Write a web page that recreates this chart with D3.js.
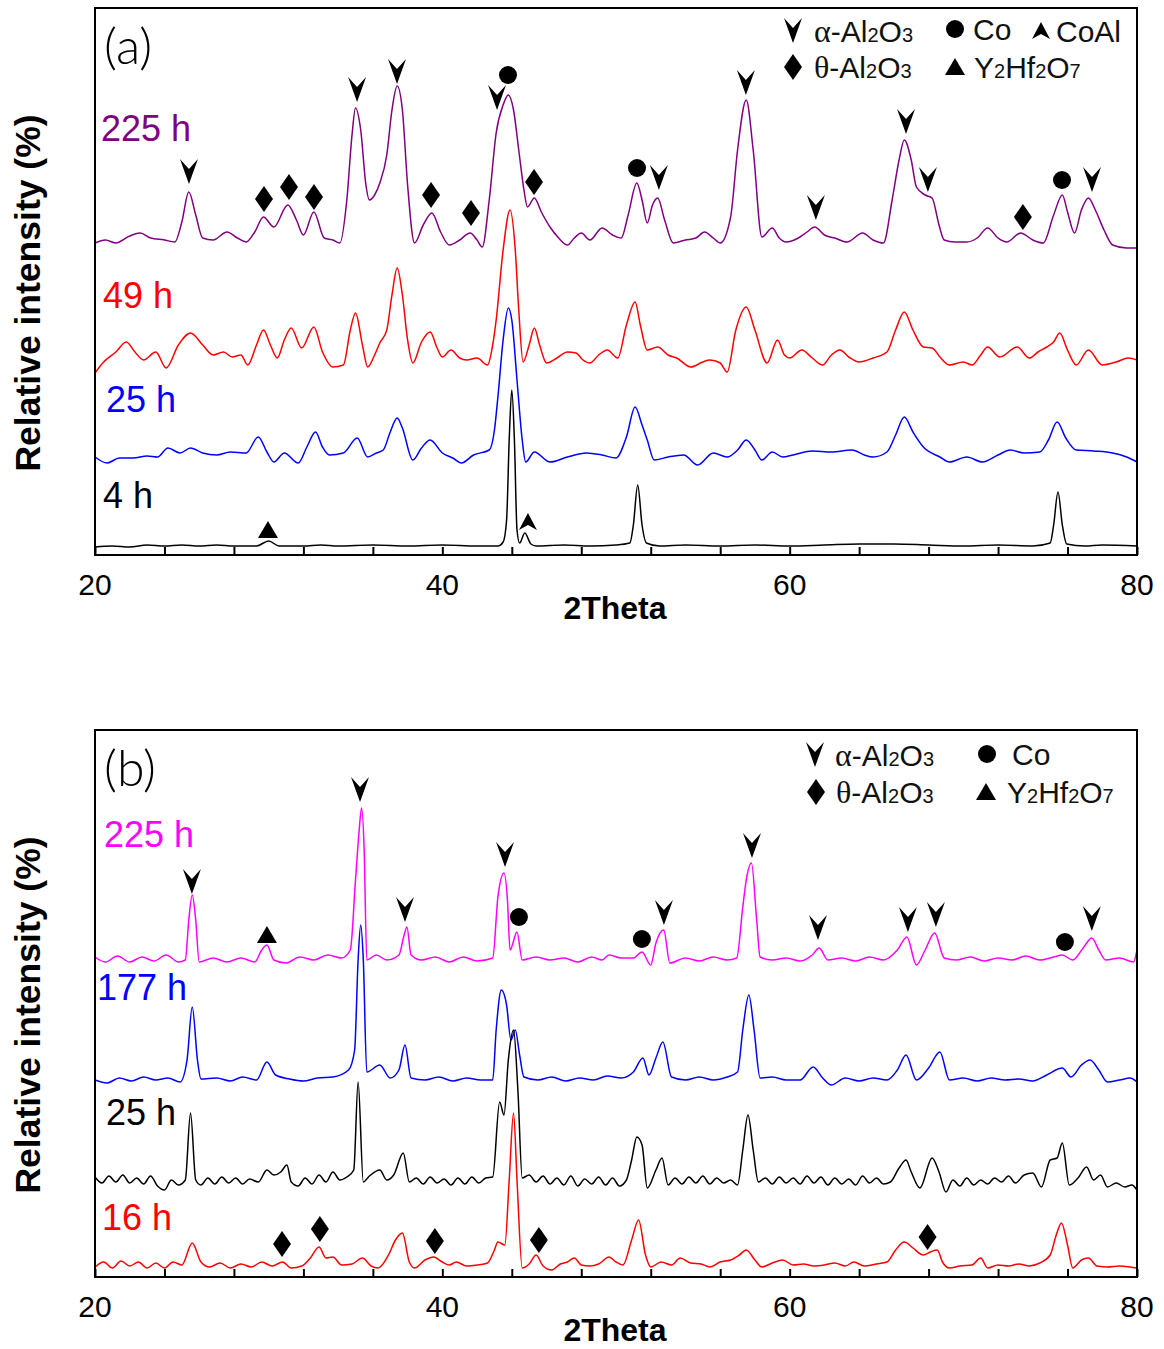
<!DOCTYPE html>
<html>
<head>
<meta charset="utf-8">
<script src="https://cdn.jsdelivr.net/npm/d3@7"></script>
<style>
  body { margin: 0; background: #fff; }
  text { font-family: "Liberation Sans", Arial, sans-serif; }
</style>
</head>
<body>
<script>
// ---- tick values (2Theta) ----
const thetaTicks = d3.range(20, 81, 4);
const thetaLabels = [20, 40, 60, 80];

// ---- panel (a) patterns: [2Theta, relative intensity (a.u., offset included)] ----
const a225h = [[20,312],[20.6,315],[21.2,312],[22,319],[22.6,322],[23.2,317],[24,315],[24.6,313],[25,333],[25.4,363],[25.8,340],[26.2,317],[26.8,315],[27.6,323],[28.2,317],[28.7,313],[29.2,323],[29.7,338],[30.3,328],[31.1,350],[31.6,335],[32,320],[32.6,343],[33.2,317],[33.7,315],[34.1,312],[34.5,355],[34.8,420],[35,447],[35.3,425],[35.6,370],[35.8,355],[36.1,360],[36.4,372],[36.8,400],[37.1,445],[37.4,469],[37.7,445],[38,370],[38.4,312],[38.9,330],[39.4,342],[39.9,323],[40.4,310],[41,315],[41.6,322],[42,315],[42.3,308],[42.7,355],[43.1,422],[43.5,450],[43.8,460],[44.1,445],[44.4,405],[44.7,365],[44.9,348],[45.3,357],[45.7,343],[46.2,328],[46.7,317],[47.2,310],[47.6,317],[48,322],[48.5,315],[49.2,327],[49.8,320],[50.3,317],[50.7,340],[51.2,372],[51.5,355],[51.8,332],[52.1,350],[52.4,357],[52.8,335],[53.3,312],[54,315],[54.6,317],[55.1,323],[55.6,317],[56,312],[56.6,338],[57,405],[57.5,455],[57.9,405],[58.4,318],[59,327],[59.4,317],[59.8,313],[60.5,317],[61,323],[61.45,328],[62,320],[62.6,317],[63.3,313],[64.2,322],[64.8,315],[65.4,312],[65.9,355],[66.3,395],[66.6,415],[67,395],[67.3,368],[67.8,360],[68.2,357],[68.6,330],[68.9,315],[69.5,313],[70.2,313],[70.8,317],[71.4,327],[72,317],[72.5,313],[73.3,322],[74,315],[74.6,312],[75.2,340],[75.7,360],[76,343],[76.4,322],[76.8,345],[77.2,357],[77.6,345],[78.1,325],[78.6,310],[79.4,307],[80,307]];
const a49h = [[20,182],[20.5,193],[21.2,203],[21.8,213],[22.3,203],[22.8,195],[23.5,203],[24.1,187],[24.8,210],[25.5,222],[26.2,210],[26.8,200],[27.4,203],[27.9,198],[28.4,200],[28.8,190],[29.3,210],[29.7,225],[30.1,210],[30.5,197],[30.9,215],[31.3,227],[31.9,207],[32.6,228],[33.1,203],[33.7,188],[34.3,190],[34.7,225],[35,242],[35.4,210],[35.7,188],[36.1,200],[36.4,212],[36.8,225],[37.1,260],[37.4,287],[37.7,260],[38,215],[38.3,192],[38.8,213],[39.3,223],[39.7,207],[40,198],[40.5,205],[41,197],[41.4,195],[42,197],[42.6,190],[42.9,210],[43.1,235],[43.5,305],[43.9,345],[44.2,305],[44.4,245],[44.65,193],[45,210],[45.3,227],[45.6,210],[46,192],[46.6,197],[47.2,203],[47.7,202],[48.1,195],[48.5,192],[49,200],[49.5,205],[50.1,197],[50.6,230],[51.1,253],[51.4,230],[51.8,205],[52.4,208],[53,200],[53.5,197],[54.3,188],[55,193],[55.4,195],[56,192],[56.4,183],[56.9,225],[57.5,248],[58,225],[58.7,192],[59.3,215],[59.7,200],[60,197],[60.7,205],[61.3,197],[61.9,190],[62.4,200],[62.9,205],[63.4,198],[64,193],[64.8,197],[65.6,203],[66.1,225],[66.6,243],[67.1,225],[67.7,208],[68.2,207],[68.7,197],[69.2,190],[70,193],[70.5,190],[71,200],[71.4,208],[72.1,198],[73.1,208],[73.8,197],[74.3,203],[74.8,208],[75.2,213],[75.55,222],[76,205],[76.5,190],[77.2,205],[78,190],[78.8,193],[79.5,197],[80,195]];
const a25h = [[20,98],[20.7,92],[21.4,97],[22.2,97],[23,99],[23.6,98],[24.2,107],[24.9,102],[25.5,107],[26.2,102],[27,100],[27.8,103],[28.7,102],[29.4,118],[29.9,103],[30.3,93],[30.9,102],[31.7,92],[32.2,108],[32.7,123],[33.1,108],[33.5,100],[34.3,102],[35.1,117],[35.7,98],[36.2,102],[36.6,105],[37,123],[37.4,137],[37.7,127],[38.3,95],[38.8,107],[39.3,115],[40,102],[40.6,97],[41.1,92],[41.8,100],[42.7,105],[43,125],[43.2,158],[43.5,215],[43.8,247],[44,235],[44.3,175],[44.6,115],[44.8,93],[45.3,103],[46.2,93],[47.2,98],[48.3,102],[49.2,100],[50,97],[50.6,118],[51.1,148],[51.5,130],[51.8,115],[52.2,95],[53,98],[53.9,100],[54.7,90],[55.6,102],[56.4,98],[57,105],[57.5,115],[58,105],[58.4,95],[59,103],[59.6,98],[60.2,100],[61.3,104],[62.4,103],[63.6,105],[64.3,100],[64.8,98],[65.6,103],[66.1,120],[66.6,138],[67.1,123],[67.7,108],[68.65,98],[69.2,93],[70.2,98],[71.1,93],[72,100],[72.7,105],[73.5,102],[74.4,103],[74.9,115],[75.4,133],[75.9,117],[76.5,105],[77.5,104],[78.6,102],[79.4,98],[80,93]];
const a4h = [[20,8],[21,9],[22,8],[23,10],[24,9],[25,10],[26,9],[27,10],[28,9],[29.3,9],[30,14],[30.6,9],[32,9],[33,10],[34,9],[36,10],[38,9],[40,10],[42,9],[43.2,9],[43.5,13],[43.7,35],[43.85,115],[44,165],[44.15,115],[44.3,25],[44.45,12],[44.75,22],[45.1,11],[45.4,9],[47,10],[48.5,9],[50,10],[50.8,12],[51,30],[51.25,70],[51.5,30],[51.75,12],[52.5,9],[54,10],[56,9],[58,10],[60,9],[62,10],[64,11],[66,11],[68,10],[70,9],[72,10],[74,9],[75,12],[75.2,30],[75.45,63],[75.7,30],[75.95,11],[77,9],[78,10],[80,9]];

// ---- panel (b) patterns ----
const b225h = [[20,320],[20.6,315],[21.3,321],[22,315],[22.7,320],[23.4,316],[24.1,322],[24.8,315],[25.2,317],[25.4,357],[25.6,382],[25.8,357],[26,315],[26.8,319],[27.6,315],[28.4,319],[29.2,315],[29.6,327],[29.9,332],[30.3,317],[31,314],[31.8,320],[32.6,317],[33.4,322],[34.2,319],[34.7,327],[35,397],[35.2,444],[35.35,469],[35.5,427],[35.65,317],[36.2,322],[36.8,317],[37.5,322],[37.8,342],[37.96,350],[38.2,322],[38.8,317],[39.6,320],[40.4,315],[41.2,320],[42,316],[42.9,319],[43.2,380],[43.55,404],[43.75,377],[43.9,327],[44.3,345],[44.6,317],[45.4,320],[46.2,317],[47,319],[47.8,315],[48.6,320],[49.2,317],[49.6,322],[50.3,319],[51,319],[51.5,325],[52,312],[52.3,334],[52.75,347],[53.1,314],[54,319],[54.8,316],[55.6,320],[56.4,317],[56.95,319],[57.3,370],[57.5,397],[57.8,414],[58.1,357],[58.3,320],[59,317],[59.8,319],[60.6,316],[61.3,322],[61.7,329],[62.2,317],[63,319],[63.8,316],[64.6,320],[65.4,317],[66.2,327],[66.75,340],[67.3,312],[67.8,327],[68.35,344],[68.9,319],[69.6,317],[70.4,320],[71.2,316],[72,319],[72.8,317],[73.6,321],[74.4,317],[75.2,320],[75.7,322],[76.3,317],[76.9,329],[77.4,339],[77.8,327],[78.2,317],[79,319],[79.8,315],[80,327]];
const b177h = [[20,197],[20.7,194],[21.4,199],[22.1,196],[22.8,200],[23.5,197],[24.2,199],[24.9,195],[25.3,217],[25.6,270],[25.9,217],[26.1,198],[27,199],[27.8,196],[28.5,200],[29.3,197],[29.9,215],[30.4,202],[31.2,198],[32,196],[32.8,199],[33.7,200],[34.6,207],[34.95,227],[35.15,317],[35.3,352],[35.45,317],[35.65,205],[36.4,212],[37,199],[37.5,207],[37.85,232],[38.2,199],[39,197],[39.8,200],[40.6,196],[41.4,199],[42.2,197],[42.9,197],[43.1,247],[43.4,287],[43.7,272],[43.95,237],[44.2,247],[44.45,222],[44.7,200],[45.5,197],[46.3,200],[47.1,196],[47.9,199],[48.7,197],[49.5,201],[50.3,199],[51,205],[51.55,219],[51.9,202],[52.3,219],[52.7,235],[53.2,200],[54,197],[54.8,200],[55.6,197],[56.4,200],[57,205],[57.3,247],[57.65,282],[57.95,247],[58.3,199],[59,200],[59.8,197],[60.6,197],[61.35,210],[61.9,199],[62.4,192],[63.2,199],[64,196],[64.8,199],[65.6,197],[66.2,207],[66.7,222],[67.3,197],[68,209],[68.65,225],[69.2,197],[70,199],[70.8,196],[71.6,199],[72.4,197],[73.2,198],[74,196],[74.8,202],[75.7,209],[76.2,200],[76.8,212],[77.3,217],[77.8,207],[78.3,195],[79,197],[79.6,199],[80,195]];
const b25h = [[20,100],[20.4,94],[20.8,101],[21.2,95],[21.6,102],[22,94],[22.4,99],[22.8,93],[23.2,101],[23.6,91],[24,87],[24.4,97],[24.8,92],[25.2,97],[25.5,164],[25.8,97],[26.1,92],[26.5,99],[26.9,93],[27.3,100],[27.7,94],[28.1,99],[28.5,93],[28.9,98],[29.4,95],[29.9,107],[30.3,102],[30.7,105],[31.05,112],[31.3,95],[31.7,91],[32.1,99],[32.5,93],[32.9,102],[33.3,95],[33.7,105],[34.1,97],[34.5,100],[34.9,107],[35.15,195],[35.45,95],[35.8,101],[36.4,107],[36.8,97],[37.2,102],[37.75,124],[38.1,95],[38.5,99],[38.9,93],[39.3,100],[39.7,94],[40.1,98],[40.5,92],[40.9,99],[41.3,93],[41.7,100],[42.1,94],[42.5,99],[42.9,100],[43.3,175],[43.55,162],[43.8,217],[44.1,247],[44.35,187],[44.6,99],[45,102],[45.4,95],[45.8,101],[46.2,93],[46.6,99],[47,92],[47.4,101],[47.8,91],[48.2,98],[48.6,93],[49,100],[49.4,92],[49.8,99],[50.2,91],[50.6,97],[50.9,117],[51.2,140],[51.5,132],[51.8,89],[52.3,107],[52.65,119],[53,92],[53.4,99],[53.8,93],[54.2,100],[54.6,94],[55,101],[55.4,93],[55.8,99],[56.2,94],[56.6,97],[57,92],[57.3,127],[57.6,162],[57.9,127],[58.2,95],[58.6,99],[59,93],[59.4,100],[59.8,94],[60.2,99],[60.6,93],[61,101],[61.4,94],[61.8,100],[62.2,92],[62.6,99],[63,93],[63.4,98],[63.8,92],[64.2,101],[64.6,94],[65,99],[65.4,93],[65.8,95],[66.3,109],[66.7,117],[67,105],[67.5,89],[68.2,119],[68.6,105],[69,85],[69.4,97],[69.8,91],[70.2,99],[70.6,92],[71,97],[71.4,93],[71.8,99],[72.2,95],[72.6,101],[73,94],[73.5,102],[74,104],[74.5,90],[75,117],[75.4,119],[75.7,134],[76.1,92],[76.6,99],[77.1,110],[77.5,97],[77.9,102],[78.3,90],[78.8,94],[79.3,90],[79.7,92],[80,87]];
const b16h = [[20,10],[20.5,15],[21,9],[21.5,16],[22,11],[22.5,15],[23,9],[23.5,14],[24,9],[24.5,15],[25,12],[25.6,34],[26.1,15],[26.6,10],[27.2,14],[27.8,9],[28.4,13],[29,10],[29.6,15],[30.2,11],[30.8,15],[31.3,9],[31.9,11],[32.4,19],[32.9,30],[33.3,19],[33.7,20],[34.2,12],[34.8,13],[35.4,19],[35.9,11],[36.3,9],[36.9,22],[37.3,37],[37.7,44],[38.1,15],[38.4,9],[39,17],[39.5,20],[40,15],[40.4,12],[40.8,15],[41.4,11],[42,12],[42.6,14],[43,27],[43.2,35],[43.6,32],[43.85,97],[44.1,164],[44.3,97],[44.6,9],[45,13],[45.4,22],[45.8,11],[46.3,7],[46.8,13],[47.2,15],[47.6,19],[48,12],[48.5,11],[49,13],[49.6,20],[50,15],[50.4,12],[50.9,37],[51.3,57],[51.7,22],[52,10],[52.6,15],[53.2,12],[53.7,19],[54.3,14],[54.9,13],[55.4,10],[56,15],[56.6,17],[57.1,22],[57.5,27],[58,17],[58.4,10],[59,14],[59.6,17],[60.2,12],[60.8,13],[61.4,11],[62,12],[62.6,14],[63.2,11],[63.7,15],[64.3,11],[65,13],[65.6,15],[66.1,27],[66.6,35],[67.1,29],[67.7,22],[68.1,25],[68.5,27],[68.8,15],[69.2,9],[69.8,11],[70.5,12],[71,19],[71.4,9],[72,12],[72.6,11],[73.2,13],[73.8,11],[74.4,14],[75,22],[75.35,42],[75.65,54],[76,32],[76.3,9],[76.8,17],[77.2,19],[77.7,11],[78.3,10],[79,11],[79.6,10],[80,9]];

// ---- phase markers: [2Theta, height] ----
const aAlpha = [[25.41,383],[35.09,465],[37.39,483],[43.15,457],[52.47,377],[57.48,472],[61.51,347],[66.7,433],[67.96,375],[77.41,375]];
const aTheta = [[29.73,356],[31.17,368],[32.61,358],[39.35,360],[41.65,342],[45.28,373],[73.43,338]];
const aCo = [[43.78,480],[51.21,387],[75.68,375]];
const aY2Hf2O7 = [[29.96,25]];
const aCoAl = [[44.93,33]];

const bAlpha = [[25.58,395],[35.26,487],[37.85,367],[43.61,422],[52.76,364],[57.83,431],[61.63,349],[66.81,357],[68.42,362],[77.4,358]];
const bTheta = [[30.77,33],[32.95,48],[39.57,36],[45.56,37],[67.94,40]];
const bCo = [[44.41,360],[51.49,338],[75.85,335]];
const bY2Hf2O7 = [[29.9,342]];

const W = 1164, H = 1349;
const svg = d3.select("body").append("svg")
    .attr("width", W).attr("height", H)
    .attr("viewBox", `0 0 ${W} ${H}`);

// marker shapes
const shapes = {
    alpha: "M-9,-13 L0,-3 L9,-13 L0,12 Z",
    coal: "M-9,8 L0,-9 L9,8 L0,3 Z",
    theta: "M0,-13 L9,0 L0,13 L-9,0 Z",
    tri: "M0,-9 L10,8 L-10,8 Z"
};

function drawMarkers(g, data, kind, x, y) {
    if (kind === "co") {
        g.selectAll("circle.co").data(data).enter().append("circle")
            .attr("class", "co")
            .attr("cx", d => x(d[0])).attr("cy", d => y(d[1]))
            .attr("r", 9).attr("fill", "#000");
        return;
    }
    g.selectAll("path.m-" + kind).data(data).enter().append("path")
        .attr("class", "m-" + kind)
        .attr("d", shapes[kind])
        .attr("transform", d => `translate(${x(d[0])},${y(d[1])})`)
        .attr("fill", "#000");
}

// legend label with greek prefix and subscripts
function legendText(g, px, py, parts) {
    const t = g.append("text").attr("x", px).attr("y", py)
        .attr("font-size", 30).attr("fill", "#111");
    parts.forEach(p => {
        const s = t.append("tspan").text(p[0]);
        if (p[1] === "g") s.style("font-family", "'Liberation Serif', 'Times New Roman', serif").attr("font-size", 32);
        if (p[1] === "s") s.attr("font-size", 20);
    });
}

function legendSymbol(g, px, py, kind) {
    if (kind === "co") {
        g.append("circle").attr("cx", px).attr("cy", py).attr("r", 9).attr("fill", "#000");
    } else {
        g.append("path").attr("d", shapes[kind])
            .attr("transform", `translate(${px},${py})`).attr("fill", "#000");
    }
}

function drawPanel(cfg) {
    const left = 95, right = 1137;
    const x = d3.scaleLinear().domain([20, 80]).range([left, right]);
    const y = d3.scaleLinear().domain([0, 547]).range([cfg.bottom, cfg.bottom - 547]);
    const g = svg.append("g");

    const line = d3.line()
        .x(d => x(d[0])).y(d => y(d[1]))
        .curve(d3.curveMonotoneX);

    cfg.series.forEach(s => {
        g.append("path").datum(s.data)
            .attr("d", line)
            .attr("fill", "none")
            .attr("stroke", s.color)
            .attr("stroke-width", 1.5)
            .attr("stroke-linejoin", "round");
        g.append("text")
            .attr("x", s.lx).attr("y", s.ly)
            .attr("font-size", 36)
            .attr("fill", s.color)
            .text(s.label);
    });

    // frame
    g.append("rect")
        .attr("x", left).attr("y", cfg.bottom - 547)
        .attr("width", right - left).attr("height", 547)
        .attr("fill", "none").attr("stroke", "#000").attr("stroke-width", 2);

    // bottom axis: inward ticks
    const axis = d3.axisBottom(x).tickValues(thetaTicks)
        .tickSize(-8).tickFormat("");
    const ax = g.append("g").attr("transform", `translate(0,${cfg.bottom})`).call(axis);
    ax.select(".domain").remove();
    ax.selectAll(".tick line").attr("stroke", "#000").attr("stroke-width", 2);

    g.selectAll("text.tlab").data(thetaLabels).enter().append("text")
        .attr("class", "tlab")
        .attr("x", d => x(d)).attr("y", cfg.bottom + 40)
        .attr("text-anchor", "middle")
        .attr("font-size", 30)
        .text(d => d);

    g.append("text")
        .attr("x", 615).attr("y", cfg.bottom + 64)
        .attr("text-anchor", "middle")
        .attr("font-size", 32).attr("font-weight", "bold")
        .text("2Theta");

    g.append("text")
        .attr("transform", `translate(40,${cfg.bottom - 262}) rotate(-90)`)
        .attr("text-anchor", "middle")
        .attr("font-size", 35.5).attr("font-weight", "bold")
        .text("Relative intensity (%)");

    g.append("text")
        .attr("x", 104).attr("y", cfg.bottom - 547 + 56)
        .attr("font-size", 50)
        .attr("font-weight", 300)
        .style("font-family", "Lato, 'Open Sans', sans-serif")
        .text(cfg.tag);

    cfg.markers.forEach(m => drawMarkers(g, m[0], m[1], x, y));

    const lg = g.append("g");
    cfg.legend.forEach(e => {
        legendSymbol(lg, e.sx, e.sy, e.kind);
        legendText(lg, e.tx, e.sy + 11, e.parts);
    });
}

const alphaParts = [["α", "g"], ["-Al"], ["2", "s"], ["O"], ["3", "s"]];
const thetaParts = [["θ", "g"], ["-Al"], ["2", "s"], ["O"], ["3", "s"]];
const yhfParts = [["Y"], ["2", "s"], ["Hf"], ["2", "s"], ["O"], ["7", "s"]];

drawPanel({
    bottom: 555,
    tag: "(a)",
    series: [
        { data: a225h, color: "#800080", label: "225 h", lx: 101, ly: 141 },
        { data: a49h, color: "#ff0000", label: "49 h", lx: 103, ly: 308 },
        { data: a25h, color: "#0000ff", label: "25 h", lx: 106, ly: 412 },
        { data: a4h, color: "#000000", label: "4 h", lx: 103, ly: 508 }
    ],
    markers: [[aAlpha, "alpha"], [aTheta, "theta"], [aCo, "co"], [aY2Hf2O7, "tri"], [aCoAl, "coal"]],
    legend: [
        { kind: "alpha", sx: 793, sy: 31, tx: 814, parts: alphaParts },
        { kind: "co", sx: 955, sy: 29, tx: 973, parts: [["Co"]] },
        { kind: "coal", sx: 1041, sy: 31, tx: 1056, parts: [["CoAl"]] },
        { kind: "theta", sx: 793, sy: 67, tx: 814, parts: thetaParts },
        { kind: "tri", sx: 955, sy: 67, tx: 974, parts: yhfParts }
    ]
});

drawPanel({
    bottom: 1277,
    tag: "(b)",
    series: [
        { data: b225h, color: "#ff00ff", label: "225 h", lx: 104, ly: 847 },
        { data: b177h, color: "#0000ff", label: "177 h", lx: 97, ly: 1000 },
        { data: b25h, color: "#000000", label: "25 h", lx: 106, ly: 1125 },
        { data: b16h, color: "#ff0000", label: "16 h", lx: 102, ly: 1230 }
    ],
    markers: [[bAlpha, "alpha"], [bTheta, "theta"], [bCo, "co"], [bY2Hf2O7, "tri"]],
    legend: [
        { kind: "alpha", sx: 815, sy: 755, tx: 835, parts: alphaParts },
        { kind: "co", sx: 987, sy: 754, tx: 1012, parts: [["Co"]] },
        { kind: "theta", sx: 816, sy: 792, tx: 836, parts: thetaParts },
        { kind: "tri", sx: 986, sy: 792, tx: 1007, parts: yhfParts }
    ]
});
</script>
</body>
</html>
